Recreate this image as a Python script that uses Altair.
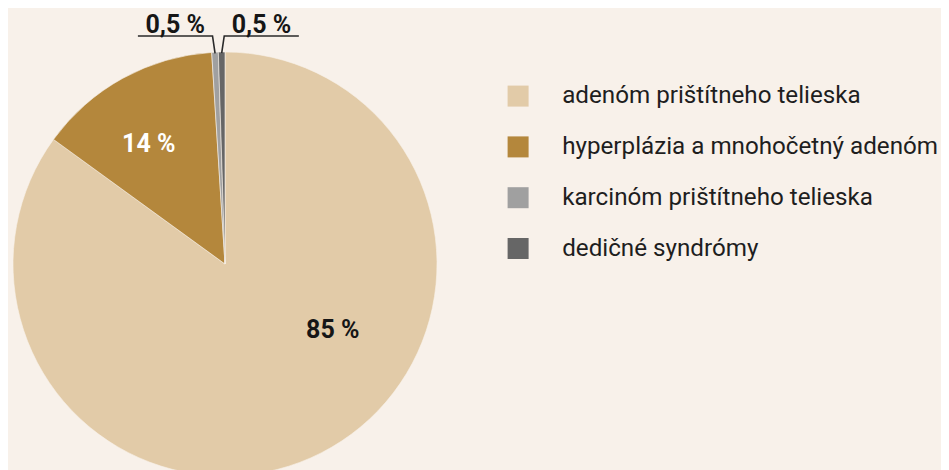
import math
import altair as alt
import pandas as pd

# ---- data ----
categories = [
    "adenóm prištítneho telieska",
    "hyperplázia a mnohočetný adenóm",
    "karcinóm prištítneho telieska",
    "dedičné syndrómy",
]
values = [85, 14, 0.5, 0.5]
labels = ["85 %", "14 %", "0,5 %", "0,5 %"]
colors = ["#e2cba8", "#b4873c", "#a0a0a0", "#666666"]

# ---- layout / style ----
BG = "#f8f1ea"
FONT = "Roboto"
FS = 25
LFS = 24.2
R = 212            # pie radius in px (1 data unit = R px)
W, H = 424, 418    # plot area
PAD = {"left": 5, "top": 44, "right": 504, "bottom": 0}

xs = alt.Scale(domain=[-1, 1], range=[0, W], nice=False, zero=False)
ys = alt.Scale(domain=[1 - H / R, 1], range=[H, 0], nice=False, zero=False)

total = sum(values)
mids, acc = [], 0.0
for v in values:
    mids.append((acc + v / 2) / total * 2 * math.pi)
    acc += v

base = pd.DataFrame({"category": categories, "value": values,
                     "label": labels, "order": list(range(len(values)))})

# inside labels anchored at mid-angle
inner = []
for i in (0, 1):
    r = 0.6
    inner.append({"category": categories[i], "label": labels[i],
                  "x": r * math.sin(mids[i]), "y": r * math.cos(mids[i])})
inner = pd.DataFrame(inner)

# outside labels with leader lines for the small slices
sides = {2: -1, 3: 1}
line_rows, out_rows = [], []
for i, side in sides.items():
    sx, sy = 0.995 * math.sin(mids[i]), 0.995 * math.cos(mids[i])
    ey = 1.0755
    ex = sx + side * 0.012
    hx = ex + side * 0.352
    for k, (px, py) in enumerate([(sx, sy), (ex, ey), (hx, ey)]):
        line_rows.append({"category": categories[i], "k": k, "x": px, "y": py})
    out_rows.append({"category": categories[i], "label": labels[i],
                     "x": (ex + hx) / 2, "y": ey})
lines = pd.DataFrame(line_rows)
outs = pd.DataFrame(out_rows)

color = alt.Color(
    "category:N",
    scale=alt.Scale(domain=categories, range=colors),
    sort=categories,
    legend=alt.Legend(
        title=None, orient="none", legendX=493, legendY=32,
        symbolType="square", symbolSize=441, symbolStrokeWidth=0,
        symbolOpacity=1, labelFont=FONT, labelFontSize=LFS,
        labelColor="#1e1e1e", labelOffset=32, labelLimit=600,
        rowPadding=25.8,
    ),
)

pie = alt.Chart(base).mark_arc(outerRadius=R, stroke=BG, strokeWidth=0.6).encode(
    theta=alt.Theta("value:Q", stack=True),
    color=color,
    order=alt.Order("order:Q"),
    x=alt.XDatum(0, type="quantitative", scale=xs, axis=None),
    y=alt.YDatum(0, type="quantitative", scale=ys, axis=None),
)

def txt(df, col, dx, dy):
    return alt.Chart(df).mark_text(
        font=FONT, fontSize=FS, fontWeight="bold", color=col,
        align="center", baseline="middle", dx=dx, dy=dy,
    ).encode(
        x=alt.X("x:Q", scale=xs, axis=None),
        y=alt.Y("y:Q", scale=ys, axis=None),
        text="label:N",
    )

lab85 = txt(inner[inner.category == categories[0]], "#161616", 50, -47)
lab14 = txt(inner[inner.category == categories[1]], "#ffffff", -15, -9)

leaders = alt.Chart(lines).mark_line(color="#2a2a2a", strokeWidth=1.6).encode(
    x=alt.X("x:Q", scale=xs, axis=None),
    y=alt.Y("y:Q", scale=ys, axis=None),
    detail="category:N",
    order="k:Q",
)

outlab = alt.Chart(outs).mark_text(
    font=FONT, fontSize=FS, fontWeight="bold", color="#161616",
    align="center", baseline="alphabetic", dy=-3,
).encode(
    x=alt.X("x:Q", scale=xs, axis=None),
    y=alt.Y("y:Q", scale=ys, axis=None),
    text="label:N",
)

chart = alt.layer(pie, lab85, lab14, leaders, outlab).properties(
    width=W, height=H, padding=PAD,
    autosize=alt.AutoSizeParams(type="none"),
    background=BG,
).configure_view(stroke=None)

chart.save("out.html", embed_options={"renderer": "svg", "actions": False})
